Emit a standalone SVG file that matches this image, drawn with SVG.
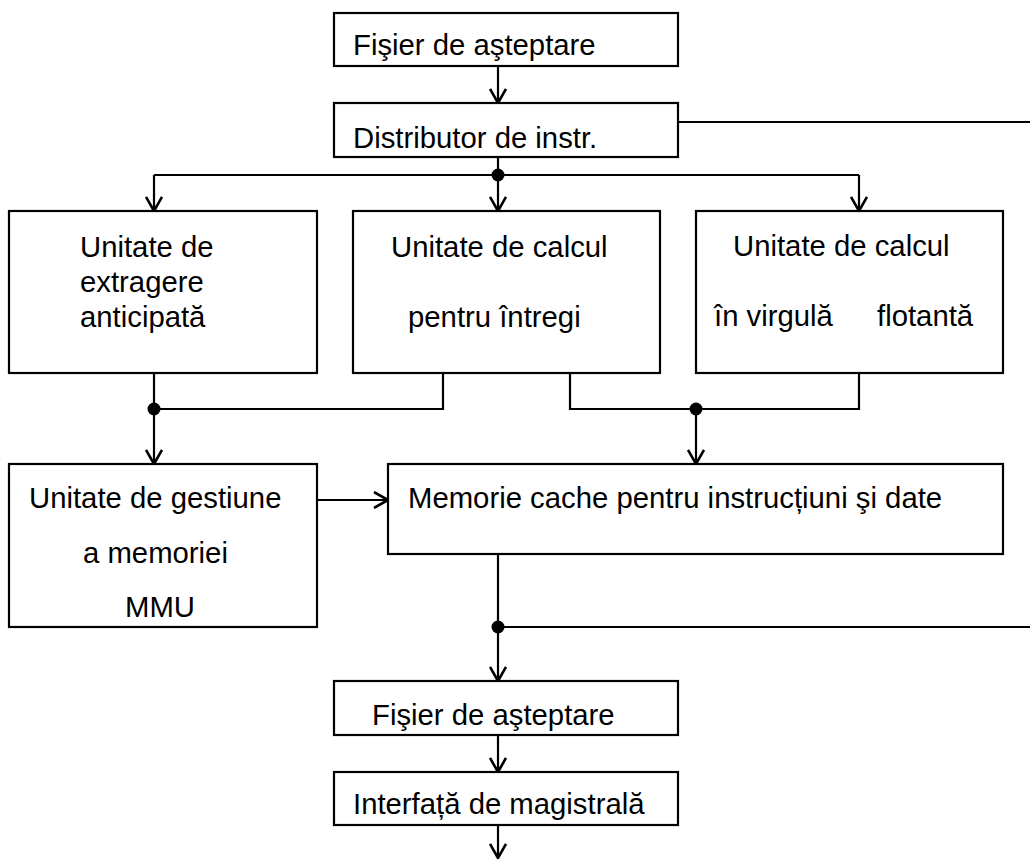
<svg xmlns="http://www.w3.org/2000/svg" width="1030" height="859" viewBox="0 0 1030 859">
<style>
  .box { fill: #ffffff; stroke: #000000; stroke-width: 2.2; }
  .lbl { font-family: "Liberation Sans", Arial, sans-serif; font-size: 29.3px; fill: #000000; }
  .ln { fill: none; stroke: #000000; stroke-width: 2.2; }
  .ar { fill: none; stroke: #000000; stroke-width: 2.2; marker-end: url(#arr); }
  .dot { fill: #000000; }
</style>
<defs>
  <marker id="arr" viewBox="0 0 16 18" refX="15" refY="9" markerWidth="16" markerHeight="18" markerUnits="userSpaceOnUse" orient="auto">
    <path d="M1,1 L15,9 L1,17" fill="none" stroke="#000000" stroke-width="2.6"/>
  </marker>
</defs>
<rect width="1030" height="859" fill="#ffffff"/>

<g id="connectors">
  <line class="ar" x1="498" y1="66" x2="498" y2="103"/>
  <line class="ln" x1="678" y1="122" x2="1030" y2="122"/>
  <line class="ln" x1="498" y1="157" x2="498" y2="175"/>
  <line class="ar" x1="498" y1="175" x2="498" y2="211"/>
  <line class="ln" x1="154" y1="175" x2="859" y2="175"/>
  <line class="ar" x1="154" y1="175" x2="154" y2="211"/>
  <line class="ar" x1="859" y1="175" x2="859" y2="211"/>
  <circle class="dot" cx="498" cy="175" r="6.5"/>

  <polyline class="ln" points="154,373 154,409 443,409 443,373"/>
  <line class="ar" x1="154" y1="409" x2="154" y2="464"/>
  <circle class="dot" cx="154" cy="409" r="6.5"/>

  <polyline class="ln" points="570,373 570,409 859,409 859,373"/>
  <line class="ar" x1="696" y1="409" x2="696" y2="464"/>
  <circle class="dot" cx="696" cy="409" r="6.5"/>

  <line class="ar" x1="317" y1="500" x2="388" y2="500"/>

  <line class="ln" x1="498" y1="554" x2="498" y2="627"/>
  <line class="ln" x1="498" y1="627" x2="1030" y2="627"/>
  <line class="ar" x1="498" y1="627" x2="498" y2="681"/>
  <circle class="dot" cx="498" cy="627" r="6.5"/>

  <line class="ar" x1="498" y1="735" x2="498" y2="772"/>
  <line class="ar" x1="498" y1="825" x2="498" y2="858"/>
</g>

<g id="fisier1">
  <rect class="box" x="334" y="13" width="344" height="53"/>
  <text class="lbl" x="353" y="55">Fişier de aşteptare</text>
</g>
<g id="distributor">
  <rect class="box" x="334" y="103" width="344" height="54"/>
  <text class="lbl" x="353" y="148">Distributor de instr.</text>
</g>
<g id="extragere">
  <rect class="box" x="9" y="211" width="308" height="162"/>
  <text class="lbl" x="80" y="257">Unitate de</text>
  <text class="lbl" x="80" y="292">extragere</text>
  <text class="lbl" x="80" y="327">anticipată</text>
</g>
<g id="intregi">
  <rect class="box" x="353" y="211" width="307" height="162"/>
  <text class="lbl" x="391" y="257">Unitate de calcul</text>
  <text class="lbl" x="408" y="327">pentru întregi</text>
</g>
<g id="flotanta">
  <rect class="box" x="696" y="211" width="307" height="162"/>
  <text class="lbl" x="733" y="256">Unitate de calcul</text>
  <text class="lbl" x="714" y="326">în virgulă</text>
  <text class="lbl" x="877" y="326">flotantă</text>
</g>
<g id="mmu">
  <rect class="box" x="9" y="464" width="308" height="163"/>
  <text class="lbl" x="29" y="508">Unitate de gestiune</text>
  <text class="lbl" x="83" y="563">a memoriei</text>
  <text class="lbl" x="125" y="617">MMU</text>
</g>
<g id="cache">
  <rect class="box" x="388" y="464" width="615" height="90"/>
  <text class="lbl" x="408" y="508">Memorie cache pentru instrucțiuni şi date</text>
</g>
<g id="fisier2">
  <rect class="box" x="334" y="681" width="344" height="54"/>
  <text class="lbl" x="372" y="725">Fişier de aşteptare</text>
</g>
<g id="interfata">
  <rect class="box" x="334" y="772" width="344" height="53"/>
  <text class="lbl" x="353" y="814">Interfață de magistrală</text>
</g>
</svg>
